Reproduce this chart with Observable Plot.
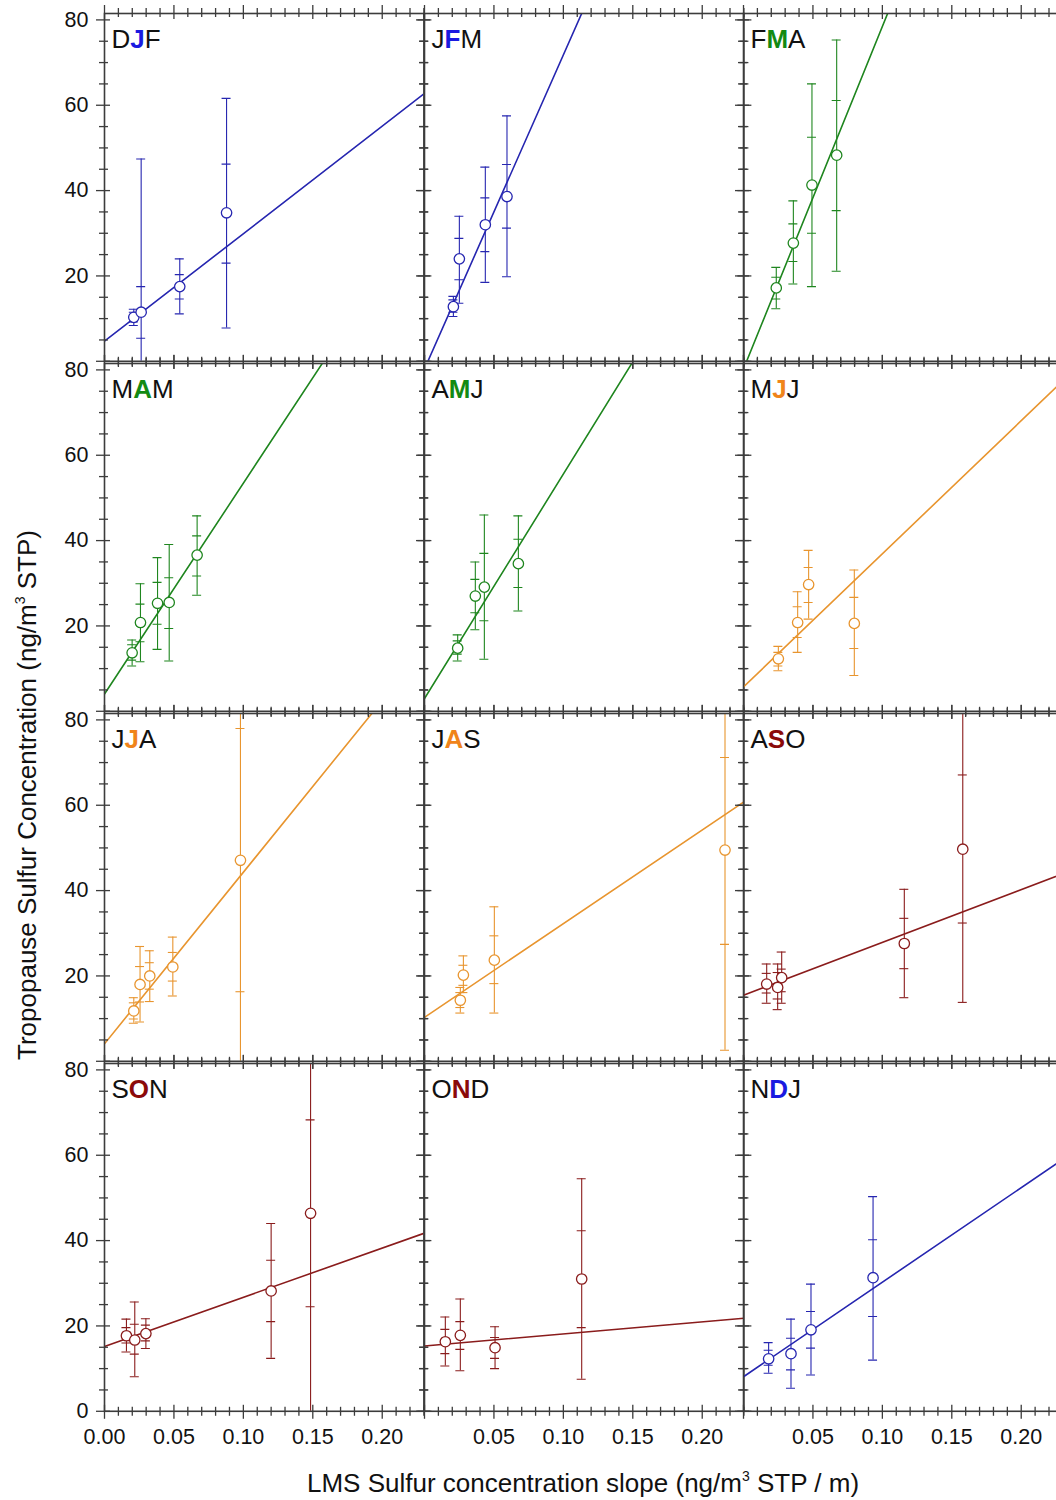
<!DOCTYPE html>
<html><head><meta charset="utf-8">
<script src="https://cdn.jsdelivr.net/npm/d3@7"></script>
<script src="https://cdn.jsdelivr.net/npm/@observablehq/plot@0.6"></script>
<style>
html,body{margin:0;padding:0;background:#fff;overflow:hidden;}
#wrap{position:relative;width:1056px;height:1500px;overflow:hidden;font-family:"Liberation Sans",Arial,sans-serif;color:#111;}
#wrap svg{position:absolute;}
.title{position:absolute;white-space:nowrap;font-size:26px;}
.title sup{font-size:14px;vertical-align:0;position:relative;top:-11px;}
</style></head>
<body><div id="wrap"></div>
<script>
// ---------- data ----------
const seasons = ["DJF","JFM","FMA","MAM","AMJ","MJJ","JJA","JAS","ASO","SON","OND","NDJ"];
const seasonGroup = ["winter","winter","spring","spring","spring","summer","summer","summer","autumn","autumn","autumn","winter"];
const slopeX = [
  [0.0211, 0.0264, 0.0542, 0.0879],
  [0.0208, 0.0251, 0.0438, 0.0594],
  [0.0236, 0.0359, 0.0493, 0.0671],
  [0.0199, 0.0259, 0.0382, 0.0466, 0.0667],
  [0.0239, 0.0366, 0.0431, 0.0676],
  [0.0251, 0.0390, 0.0469, 0.0798],
  [0.0211, 0.0256, 0.0326, 0.0492, 0.0979],
  [0.0258, 0.0280, 0.0503, 0.2164],
  [0.0167, 0.0246, 0.0275, 0.1158, 0.1579],
  [0.0158, 0.0218, 0.0298, 0.1200, 0.1484],
  [0.0150, 0.0258, 0.0508, 0.1132],
  [0.0181, 0.0342, 0.0486, 0.0933]
];
const sulfur = [
  [10.3, 11.5, 17.5, 34.8],
  [12.8, 24.0, 32.0, 38.6],
  [17.2, 27.7, 41.3, 48.3],
  [13.7, 20.8, 25.3, 25.5, 36.6],
  [14.8, 27.0, 29.1, 34.6],
  [12.3, 20.8, 29.7, 20.6],
  [11.8, 18.0, 20.0, 22.1, 47.1],
  [14.3, 20.2, 23.7, 49.5],
  [18.1, 17.3, 19.6, 27.6, 49.7],
  [17.7, 16.7, 18.2, 28.2, 46.4],
  [16.3, 17.8, 14.9, 31.0],
  [12.3, 13.5, 19.1, 31.3]
];
const outerHigh = [
  [12.2, 47.4, 24.0, 61.6],
  [15.2, 34.0, 45.5, 57.5],
  [22.0, 37.6, 65.0, 75.3],
  [16.7, 29.9, 36.0, 39.1, 45.8],
  [17.9, 35.0, 46.0, 45.8],
  [15.2, 28.0, 37.7, 33.1],
  [14.9, 26.9, 25.9, 29.1, 90],
  [17.3, 24.7, 36.2, 90],
  [22.8, 22.8, 25.6, 40.3, 90],
  [21.6, 25.6, 21.7, 44.0, 90],
  [22.1, 26.3, 19.8, 54.5],
  [16.1, 21.6, 29.8, 50.3]
];
const outerLow = [
  [8.4, -1, 11.1, 7.8],
  [10.5, 13.6, 18.5, 19.8],
  [12.3, 18.1, 17.5, 21.1],
  [10.6, 11.6, 14.5, 11.8, 27.2],
  [11.8, 19.1, 12.2, 23.5],
  [9.5, 13.8, 21.6, 8.4],
  [8.9, 9.2, 14.0, 15.3, -5],
  [11.3, 16.1, 11.3, 2.6],
  [13.6, 12.1, 13.6, 14.9, 13.8],
  [13.9, 8.1, 14.7, 12.4, -5],
  [10.6, 9.5, 10.0, 7.5],
  [8.9, 5.4, 8.5, 12.0]
];
const innerHigh = [
  [11.5, 17.5, 20.3, 46.2],
  [14.4, 28.8, 38.3, 46.1],
  [19.7, 32.2, 52.5, 61.1],
  [15.6, 25.1, 30.2, 31.3, 41.1],
  [16.5, 30.9, 37.0, 40.3],
  [13.8, 24.5, 33.7, 26.7],
  [13.7, 22.2, 23.1, 25.5, 78.0],
  [16.1, 22.5, 29.4, 71.2],
  [20.6, 20.8, 21.6, 33.5, 67.1],
  [19.6, 20.4, 20.2, 35.4, 68.3],
  [19.2, 21.0, 17.3, 42.3],
  [14.3, 17.1, 23.4, 40.2]
];
const innerLow = [
  [9.2, 5.4, 14.6, 23.0],
  [11.5, 19.1, 25.7, 31.2],
  [14.6, 23.4, 30.0, 35.3],
  [12.0, 16.3, 20.4, 19.4, 31.7],
  [13.4, 23.1, 21.2, 29.0],
  [10.6, 17.3, 25.5, 14.7],
  [9.9, 13.9, 16.9, 18.8, 16.3],
  [12.6, 17.8, 18.2, 27.4],
  [16.0, 14.6, 16.3, 21.7, 32.4],
  [16.0, 13.4, 16.5, 21.0, 24.5],
  [13.5, 14.5, 12.4, 19.6],
  [10.8, 9.7, 14.8, 22.2]
];
const fitIntercept = [4.7, -1.8, -1.8, 4.05, 3.0, 5.7, 4.1, 10.3, 15.5, 15.2, 15.3, 8.1];
const fitSlope = [252, 736, 802.6, 494, 526, 312, 402, 219.5, 123.6, 115.2, 28.3, 221.5];
const xTickLabels = [0, 0.05, 0.10, 0.15, 0.20];
const yTickLabels = [0, 20, 40, 60, 80];
const xDomain = [0, 0.23];
const yDomain = [0, 81.5];

// ---------- style ----------
const palette = {
  winter: {line: "#2626b0", letter: "#1a1ae0"},
  spring: {line: "#1f861f", letter: "#138a13"},
  summer: {line: "#e8952f", letter: "#f0841a"},
  autumn: {line: "#8a1c1c", letter: "#8b0a0a"}
};
const axisColor = "#3c3c3c";
const colLeft = [104, 423.5, 742.5];
const rowTop = [12.9, 362.6, 712.6, 1062.6];
const W = 319.4, H = 347.8;
const M = {top: 30, right: 30, bottom: 50, left: 60};

const xMinor = d3.range(1, 24).map(i => i / 100).filter(v => !xTickLabels.some(t => Math.abs(t - v) < 1e-9));
const yMinor = d3.range(5, 81, 5).filter(v => v % 20 !== 0);

function ticksMarks() {
  const majIn = 6, majOut = 8, minIn = 4, minOut = 5;
  const s = {stroke: axisColor, strokeWidth: 1.3};
  const xm = xTickLabels, ym = yTickLabels;
  return [
    Plot.tickX(xm, {x: d => d, insetTop: H - majIn, insetBottom: -majOut, ...s}),
    Plot.tickX(xMinor, {x: d => d, insetTop: H - minIn, insetBottom: -minOut, ...s}),
    Plot.tickX(xm, {x: d => d, insetBottom: H - majIn, insetTop: -majOut, ...s}),
    Plot.tickX(xMinor, {x: d => d, insetBottom: H - minIn, insetTop: -minOut, ...s}),
    Plot.tickY(ym, {y: d => d, insetRight: W - majIn, insetLeft: -majOut, ...s}),
    Plot.tickY(yMinor, {y: d => d, insetRight: W - minIn, insetLeft: -minOut, ...s}),
    Plot.tickY(ym, {y: d => d, insetLeft: W - majIn, insetRight: -majOut, ...s}),
    Plot.tickY(yMinor, {y: d => d, insetLeft: W - minIn, insetRight: -minOut, ...s})
  ];
}

const wrap = document.getElementById("wrap");

seasons.forEach((season, i) => {
  const row = Math.floor(i / 3), col = i % 3;
  const color = palette[seasonGroup[i]].line;
  const pts = slopeX[i].map((x, j) => ({
    x, y: sulfur[i][j],
    oLo: outerLow[i][j], oHi: outerHigh[i][j],
    iLo: innerLow[i][j], iHi: innerHigh[i][j]
  }));
  const fit = xDomain.map(x => ({x, y: fitIntercept[i] + fitSlope[i] * x}));
  const cap = (key) => Plot.ruleY(pts, {y: key, x1: "x", x2: "x", insetLeft: -4.5, insetRight: -4.5, stroke: color, strokeWidth: 1.1, clip: true});

  const marks = [
    Plot.line(fit, {x: "x", y: "y", stroke: color, strokeWidth: 1.6, clip: true}),
    Plot.ruleX(pts, {x: "x", y1: "oLo", y2: "oHi", stroke: color, strokeWidth: 1.1, clip: true}),
    cap("oLo"), cap("oHi"), cap("iLo"), cap("iHi"),
    Plot.dot(pts, {x: "x", y: "y", r: 5.2, stroke: color, fill: "white", strokeWidth: 1.3, clip: true}),
    Plot.frame({stroke: axisColor, strokeWidth: 1.6}),
    ...ticksMarks(),
    Plot.text([season], {frameAnchor: "top-left", text: d => d, textAnchor: "start", lineAnchor: "top", dx: 7, dy: 16, fontSize: 26, fill: "#111"})
  ];
  if (col === 0) {
    const yl = row === 3 ? yTickLabels : yTickLabels.filter(v => v !== 0);
    marks.push(Plot.text(yl, {y: d => d, text: d => String(d), frameAnchor: "left", textAnchor: "end", dx: -16, fontSize: 21.5, fill: "#111"}));
  }
  if (row === 3) {
    const xl = col === 0 ? xTickLabels : xTickLabels.filter(v => v !== 0);
    marks.push(Plot.text(xl, {x: d => d, text: d => d.toFixed(2), frameAnchor: "bottom", lineAnchor: "top", dy: 17, fontSize: 21.5, fill: "#111"}));
  }

  const svg = Plot.plot({
    width: W + M.left + M.right,
    height: H + M.top + M.bottom,
    marginTop: M.top, marginRight: M.right, marginBottom: M.bottom, marginLeft: M.left,
    x: {domain: xDomain, axis: null},
    y: {domain: yDomain, axis: null},
    style: {overflow: "visible", background: "transparent", fontFamily: "'Liberation Sans', Arial, sans-serif", maxWidth: "none"},
    marks
  });
  svg.style.left = (colLeft[col] - M.left) + "px";
  svg.style.top = (rowTop[row] - M.top) + "px";

  svg.querySelectorAll("text").forEach(t => {
    if (t.textContent === season) {
      t.textContent = "";
      [...season].forEach((ch, k) => {
        const ts = document.createElementNS("http://www.w3.org/2000/svg", "tspan");
        ts.textContent = ch;
        if (k === 1) { ts.setAttribute("fill", palette[seasonGroup[i]].letter); ts.setAttribute("font-weight", "bold"); }
        t.appendChild(ts);
      });
    }
  });
  wrap.appendChild(svg);
});

const yt = document.createElement("div");
yt.className = "title";
yt.innerHTML = "Tropopause Sulfur Concentration (ng/m<sup>3</sup> STP)";
yt.style.left = "27px"; yt.style.top = "795px";
yt.style.transform = "translate(-50%,-50%) rotate(-90deg)";
wrap.appendChild(yt);

const xt = document.createElement("div");
xt.className = "title";
xt.innerHTML = "LMS Sulfur concentration slope (ng/m<sup>3</sup> STP / m)";
xt.style.left = "583px"; xt.style.top = "1483px";
xt.style.transform = "translate(-50%,-50%)";
wrap.appendChild(xt);
</script></body></html>
